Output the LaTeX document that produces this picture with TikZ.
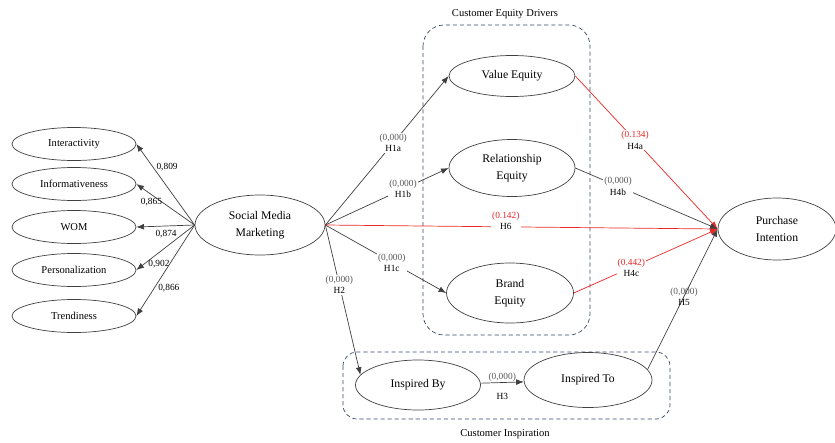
\documentclass[tikz,border=0pt]{standalone}
\usepackage{fontspec}
\setmainfont{Liberation Serif}
\usetikzlibrary{shapes.geometric,arrows.meta}
\definecolor{pathred}{RGB}{236,40,40}
\definecolor{framegray}{RGB}{58,74,100}
\newcommand{\pval}[1]{\textcolor{black!65}{#1}}
\newcommand{\rpval}[1]{\textcolor{pathred}{#1}}

\begin{document}
\begin{tikzpicture}[x=0.03cm,y=-0.03cm,->,>={Latex[length=6.5pt,width=5pt]},draw=black!75,line width=0.6pt]
    \tikzstyle{indicator}=[ellipse,draw,minimum width=3.72cm,minimum height=0.99cm,inner sep=0pt,font=\small]
    \tikzstyle{construct}=[ellipse,draw,inner sep=0pt,align=center,font=\fontsize{10}{14.5}\selectfont]
    \tikzstyle{frame}=[-,draw=framegray,dash pattern=on 3.5pt off 2.5pt,line width=0.6pt]
    \tikzstyle{loading}=[font=\footnotesize,inner sep=3pt]
    \tikzstyle{hyp}=[fill=white,align=center,inner sep=1pt,font=\fontsize{8}{9.5}\selectfont]
    \useasboundingbox (0,0) rectangle (835,442);

    % grouping frames
    \draw[frame,rounded corners=18pt] (423,25) rectangle (590,335);
    \node[font=\small] (ced) at (505,14) {Customer Equity Drivers};
    \draw[frame,rounded corners=12pt] (343,352) rectangle (670,419);
    \node[font=\small] (ci) at (505,434) {Customer Inspiration};

    \node[construct,minimum width=3.9cm,minimum height=1.8cm] (smm) at (260,225) {Social Media\\Marketing};

    \foreach \y/\name [count=\i] in {144/Interactivity,184/Informativeness,227/WOM,270/Personalization,316/Trendiness}
    \node[indicator] (I-\i) at (74,\y) {\name};

    \foreach \i/\val/\p/\anc in {1/{0,809}/0.72/west,2/{0,865}/0.74/north,3/{0,874}/0.49/north,4/{0,902}/0.86/west,5/{0,866}/0.69/west}
    \path (smm.west) edge node[loading,pos=\p,anchor=\anc] {\val} (I-\i.east);

    \node[construct,minimum width=3.78cm,minimum height=1.23cm] (ve) at (512,76) {Value Equity};
    \node[construct,minimum width=3.78cm,minimum height=1.71cm] (re) at (512,168) {Relationship\\Equity};
    \node[construct,minimum width=3.81cm,minimum height=1.8cm] (be) at (510,293) {Brand\\Equity};
    \node[construct,minimum width=3.54cm,minimum height=1.86cm] (pi) at (777,229) {Purchase\\Intention};
    \node[construct,minimum width=3.75cm,minimum height=1.5cm] (ib) at (418,385) {Inspired By};
    \node[construct,minimum width=3.84cm,minimum height=1.65cm] (it) at (588,380) {Inspired To};

    \path (smm.east) edge node[hyp,pos=0.55] {\pval{(0,000)}\\H1a} (ve.west)
                     edge node[hyp,pos=0.63] {\pval{(0,000)}\\H1b} (re.west)
                     edge node[hyp,pos=0.55] {\pval{(0,000)}\\H1c} (be.west)
                     edge node[hyp,pos=0.4] {\pval{(0,000)}\\H2} (ib.170);
    \path (smm.east) edge[draw=pathred] node[hyp,pos=0.46,yshift=5pt] {\rpval{(0.142)}\\H6} (pi.west);

    \path (ve.east) edge[draw=pathred] node[hyp,pos=0.42] {\rpval{(0.134)}\\H4a} (pi.west);
    \path (re.east) edge node[hyp,pos=0.3] {\pval{(0,000)}\\H4b} (pi.west);
    \path (be.east) edge[draw=pathred] node[hyp,pos=0.4] {\rpval{(0.442)}\\H4c} (pi.west);
    \path (it.10) edge node[hyp,fill=none,pos=0.52] {\pval{(0,000)}\\H5} (pi.west);
    \path (ib) edge node[hyp,fill=none,pos=0.5,above] {\pval{(0,000)}} node[hyp,fill=none,pos=0.5,below=8pt] {H3} (it);
\end{tikzpicture}
\end{document}
